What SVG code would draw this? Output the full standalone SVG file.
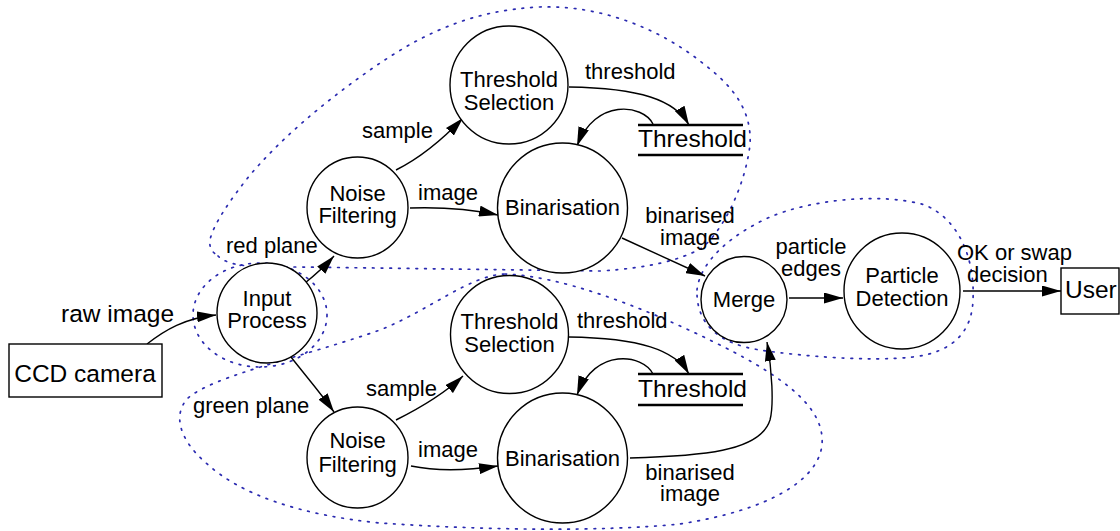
<svg xmlns="http://www.w3.org/2000/svg" width="1120" height="531" viewBox="0 0 1120 531">
<defs>
<marker id="ah" markerUnits="userSpaceOnUse" markerWidth="19" markerHeight="11" refX="19" refY="5.5" orient="auto"><path d="M0,0 L19,5.5 L0,11 Z" fill="#000"/></marker>
<style>
.n{fill:#fff;stroke:#000;stroke-width:1.4}
.b{fill:#fff;stroke:#000;stroke-width:1.4}
.s{stroke:#000;stroke-width:2.6}
.t{font-family:"Liberation Sans",Arial,sans-serif;font-size:22px;fill:#000}
.tl{font-family:"Liberation Sans",Arial,sans-serif;font-size:24.5px;fill:#000}
.m{text-anchor:middle}
.e{fill:none;stroke:#000;stroke-width:1.4;marker-end:url(#ah)}
.g{fill:none;stroke:#2a2ab0;stroke-width:1.7;stroke-dasharray:1.7 7;stroke-linecap:round}
</style>
</defs>
<rect width="1120" height="531" fill="#fff"/>
<g id="groups">
<path class="g" d="M218,256 C230,268 260,267 300,267 L600,271 C650,268 680,260 702,248 C725,228 745,185 750,145 C752,112 735,88 705,65 C660,28 600,5 540,7 C470,10 420,35 370,70 C320,105 280,140 250,175 C230,200 213,225 210,240 C209,248 212,252 218,256 Z"/>
<ellipse class="g" cx="260" cy="315" rx="67" ry="52"/>
<path class="g" d="M505,274 C560,276 640,305 720,345 C790,380 825,410 822,445 C818,480 770,510 680,524 C600,532 480,530 380,523 C300,515 240,495 205,462 C180,440 172,415 188,398 C215,375 300,358 380,330 C430,310 470,275 505,274 Z"/>
<path class="g" d="M697,290 C700,262 730,235 770,217 C810,200 880,192 925,205 C960,220 975,260 973,300 C972,330 955,352 913,357 C870,362 800,356 760,350 C720,344 696,325 697,290 Z"/>
</g>
<g id="connectors">
<path class="e" d="M147,344 C165,330 185,318 216,315"/>
<path class="e" d="M305,283 C315,275 325,266 334,256"/>
<path class="e" d="M396,170 C420,158 442,140 463,118"/>
<path class="e" d="M410,208 C440,207 470,209 498,215"/>
<path class="e" d="M569,87 C640,88 675,100 689,125"/>
<path class="e" d="M653,124 C643,104 595,98 577,146"/>
<path class="e" d="M622,238 L705,276"/>
<path class="e" d="M789,298 L843,298"/>
<path class="e" d="M963,291 L1061,291"/>
<path class="e" d="M291,357 C305,375 320,392 334,412"/>
<path class="e" d="M396,420 C420,408 445,393 463,376"/>
<path class="e" d="M411,466 C440,472 470,470 498,466"/>
<path class="e" d="M569,337 C640,338 675,350 689,374"/>
<path class="e" d="M653,374 C643,354 595,347 577,395"/>
<path class="e" d="M630,458 C700,456 760,452 770,420 C774,405 772,370 767,342"/>
</g>
<g id="labels">
<text class="tl" x="61" y="322">raw image</text>
<text class="t" x="226" y="253">red plane</text>
<text class="t" x="362" y="138">sample</text>
<text class="t" x="418" y="200">image</text>
<text class="t" x="585" y="79">threshold</text>
<text class="t m" x="690" y="223">binarised</text>
<text class="t m" x="690" y="245">image</text>
<text class="t m" x="811" y="254">particle</text>
<text class="t m" x="811" y="276">edges</text>
<text class="t" x="957" y="260">OK or swap</text>
<text class="t" x="967" y="282">decision</text>
<text class="t" x="193" y="413">green plane</text>
<text class="t" x="366" y="396">sample</text>
<text class="t" x="418" y="457">image</text>
<text class="t" x="577" y="328">threshold</text>
<text class="t m" x="690" y="480">binarised</text>
<text class="t m" x="690" y="501">image</text>
</g>
<g id="ccd"><rect class="b" x="9" y="344" width="153" height="53"/><text class="tl m" x="85" y="382">CCD camera</text></g>
<g id="input"><circle class="n" cx="267" cy="313" r="50"/><text class="t m" x="267" y="306">Input</text><text class="t m" x="267" y="328">Process</text></g>
<g id="noise1"><circle class="n" cx="357.5" cy="207.5" r="50.5"/><text class="t m" x="357.5" y="201">Noise</text><text class="t m" x="357.5" y="223">Filtering</text></g>
<g id="thrsel1"><circle class="n" cx="509" cy="85" r="59"/><text class="t m" x="509" y="87">Threshold</text><text class="t m" x="509" y="110">Selection</text></g>
<g id="bin1"><circle class="n" cx="562.5" cy="208" r="65"/><text class="t m" x="562.5" y="215">Binarisation</text></g>
<g id="store1"><line class="s" x1="638" y1="125" x2="743" y2="125"/><line class="s" x1="638" y1="155" x2="743" y2="155"/><text class="tl" x="638" y="147">Threshold</text></g>
<g id="noise2"><circle class="n" cx="357.5" cy="457.5" r="50.5"/><text class="t m" x="357.5" y="448">Noise</text><text class="t m" x="357.5" y="472">Filtering</text></g>
<g id="thrsel2"><circle class="n" cx="509.5" cy="334.5" r="59"/><text class="t m" x="509.5" y="329">Threshold</text><text class="t m" x="509.5" y="352">Selection</text></g>
<g id="bin2"><circle class="n" cx="562.5" cy="458" r="65"/><text class="t m" x="562.5" y="466">Binarisation</text></g>
<g id="store2"><line class="s" x1="638" y1="374" x2="743" y2="374"/><line class="s" x1="638" y1="405" x2="743" y2="405"/><text class="tl" x="638" y="397">Threshold</text></g>
<g id="merge"><circle class="n" cx="744" cy="299.5" r="43"/><text class="t m" x="744" y="307">Merge</text></g>
<g id="particle"><circle class="n" cx="902" cy="291" r="58"/><text class="t m" x="902" y="283">Particle</text><text class="t m" x="902" y="306">Detection</text></g>
<g id="user"><rect class="b" x="1061" y="268" width="58" height="46"/><text class="tl" x="1065" y="298">User</text></g>
</svg>
